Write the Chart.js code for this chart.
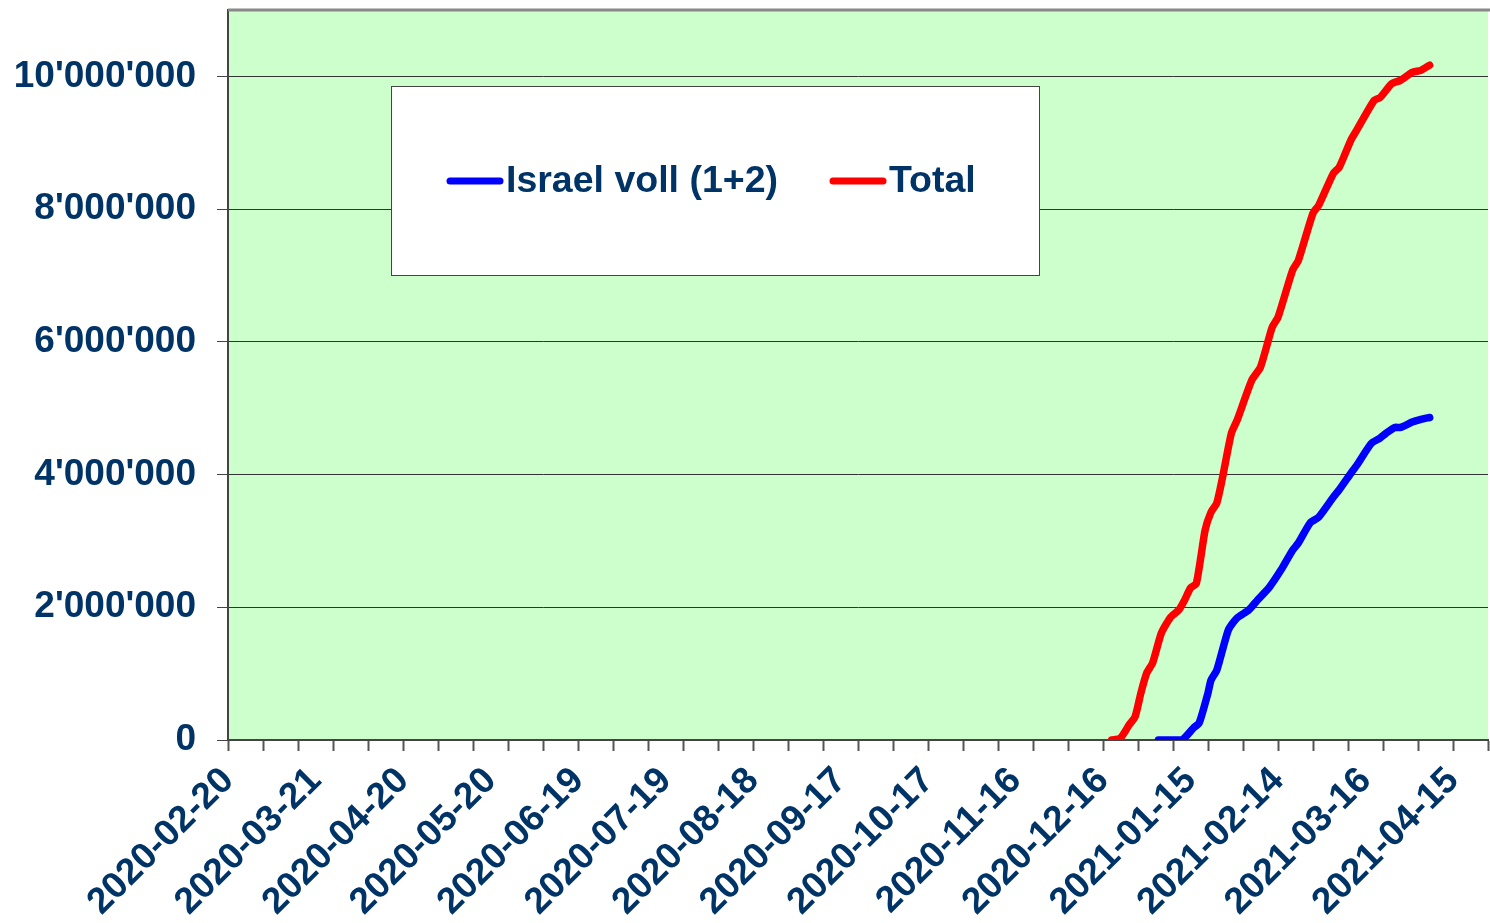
<!DOCTYPE html>
<html lang="de">
<head>
<meta charset="UTF-8">
<title>Israel Impfungen</title>
<script src="https://cdn.jsdelivr.net/npm/chart.js"></script>
<style>
  body { margin: 0; background: #fff; }
  canvas { display: block; }
</style>
</head>
<body>
<canvas id="chart" width="1490" height="923"></canvas>
<script>
// data
const startDate = '2020-02-20';
const axisDays = 432;

const totalDates = ['2020-12-19','2020-12-22','2020-12-25','2020-12-27','2020-12-29','2020-12-31','2021-01-02','2021-01-05','2021-01-08','2021-01-11','2021-01-13','2021-01-15','2021-01-17','2021-01-20','2021-01-22','2021-01-24','2021-01-26','2021-01-29','2021-01-31','2021-02-05','2021-02-08','2021-02-12','2021-02-14','2021-02-19','2021-02-21','2021-02-26','2021-02-28','2021-03-05','2021-03-07','2021-03-11','2021-03-13','2021-03-19','2021-03-21','2021-03-25','2021-03-28','2021-04-01','2021-04-04','2021-04-07'];
const totalValues = [0, 30000, 230000, 350000, 710000, 1010000, 1160000, 1610000, 1840000, 1960000, 2110000, 2290000, 2360000, 3160000, 3430000, 3570000, 3960000, 4620000, 4820000, 5420000, 5620000, 6220000, 6370000, 7080000, 7230000, 7940000, 8060000, 8540000, 8630000, 9040000, 9190000, 9640000, 9680000, 9890000, 9940000, 10060000, 10090000, 10170000];

const israelDates = ['2021-01-04','2021-01-12','2021-01-16','2021-01-18','2021-01-21','2021-01-22','2021-01-24','2021-01-28','2021-01-31','2021-02-04','2021-02-07','2021-02-11','2021-02-15','2021-02-19','2021-02-21','2021-02-25','2021-02-28','2021-03-05','2021-03-07','2021-03-11','2021-03-13','2021-03-18','2021-03-21','2021-03-23','2021-03-26','2021-03-28','2021-04-01','2021-04-04','2021-04-07'];
const israelValues = [0, 0, 180000, 260000, 710000, 900000, 1050000, 1660000, 1840000, 1960000, 2110000, 2300000, 2560000, 2860000, 2970000, 3270000, 3360000, 3660000, 3770000, 4020000, 4140000, 4470000, 4550000, 4620000, 4710000, 4710000, 4790000, 4830000, 4860000];

const seriesLabels = ['Israel voll (1+2)', 'Total'];
const yTicks = [0, 2000000, 4000000, 6000000, 8000000, 10000000];
const yMax = 11000000;
const labelEvery = 30;   // days between date labels
const tickEvery = 12;    // days between tick marks

const navy = '#003366';
const fontFamily = '"Liberation Sans", Arial, sans-serif';
const DAY = 86400000;
const base = Date.parse(startDate + 'T00:00:00Z');

function dayOf(s) { return Math.round((Date.parse(s + 'T00:00:00Z') - base) / DAY); }
function dateOf(d) { return new Date(base + d * DAY).toISOString().slice(0, 10); }
function toPoints(dates, vals) { return dates.map((d, i) => ({ x: dayOf(d), y: vals[i] })); }
function fmt(v) { return String(v).replace(/\B(?=(\d{3})+(?!\d))/g, "'"); }

const plotBg = {
  id: 'plotBg',
  beforeDraw(chart) {
    const { ctx, chartArea: a } = chart;
    ctx.save();
    ctx.fillStyle = '#CCFFCC';
    ctx.fillRect(a.left, a.top, a.right - a.left, a.bottom - a.top);
    ctx.restore();
  },
  afterDraw(chart) {
    const { ctx, chartArea: a } = chart;
    ctx.save();
    ctx.strokeStyle = '#888';
    ctx.lineWidth = 3;
    ctx.beginPath();
    ctx.moveTo(a.left, a.top);
    ctx.lineTo(a.right + 2, a.top);
    ctx.stroke();
    ctx.restore();
  }
};

// legend box inside the plot
const boxLegend = {
  id: 'boxLegend',
  afterDraw(chart) {
    const { ctx, chartArea: a } = chart;
    const x0 = a.left + 163, y0 = a.top + 76, w = 648, h = 189;
    ctx.save();
    ctx.fillStyle = '#fff';
    ctx.fillRect(x0, y0, w, h);
    ctx.strokeStyle = '#444';
    ctx.lineWidth = 1;
    ctx.strokeRect(x0 + 0.5, y0 + 0.5, w, h);
    ctx.font = 'bold 37.5px ' + fontFamily;
    ctx.textBaseline = 'middle';
    const yMid = y0 + 95;
    const xs = [x0 + 59, x0 + 442];
    chart.data.datasets.forEach((ds, k) => {
      ctx.strokeStyle = ds.borderColor;
      ctx.lineWidth = 7;
      ctx.lineCap = 'round';
      ctx.beginPath();
      ctx.moveTo(xs[k], yMid);
      ctx.lineTo(xs[k] + 50, yMid);
      ctx.stroke();
      ctx.fillStyle = navy;
      ctx.fillText(ds.label, xs[k] + 56, yMid + 1);
    });
    ctx.restore();
  }
};

const lineStyle = {
  borderWidth: 7.5,
  borderCapStyle: 'round',
  borderJoinStyle: 'round',
  pointRadius: 0,
  tension: 0.2
};

new Chart(document.getElementById('chart'), {
  type: 'line',
  data: {
    datasets: [
      Object.assign({
        label: seriesLabels[0],
        data: toPoints(israelDates, israelValues),
        borderColor: '#0000FF',
        order: 2
      }, lineStyle),
      Object.assign({
        label: seriesLabels[1],
        data: toPoints(totalDates, totalValues),
        borderColor: '#FF0000',
        order: 1
      }, lineStyle)
    ]
  },
  options: {
    responsive: false,
    animation: false,
    layout: { padding: { top: 10, right: 2, left: 0, bottom: 0 } },
    plugins: {
      legend: { display: false },
      tooltip: { enabled: false }
    },
    scales: {
      x: {
        type: 'linear',
        min: 0,
        max: axisDays,
        afterBuildTicks(scale) {
          const t = [];
          for (let d = 0; d <= axisDays; d += 6) {
            if (d % tickEvery === 0 || d % labelEvery === 0) t.push({ value: d });
          }
          scale.ticks = t;
        },
        afterFit(scale) {
          scale.height = 183;
          scale.paddingLeft = 0;
          scale.paddingRight = 0;
        },
        border: { color: '#444', width: 2 },
        grid: {
          drawOnChartArea: false,
          drawTicks: true,
          tickLength: 11,
          tickWidth: 2,
          tickColor: c => (c.tick && c.tick.value % tickEvery === 0) ? '#555' : 'rgba(0,0,0,0)'
        },
        ticks: {
          autoSkip: false,
          maxRotation: 45,
          minRotation: 45,
          padding: 8,
          color: navy,
          font: { family: fontFamily, size: 37, weight: 'bold' },
          callback: v => (v % labelEvery === 0) ? dateOf(v) : ''
        }
      },
      y: {
        min: 0,
        max: yMax,
        afterBuildTicks(scale) {
          scale.ticks = yTicks.map(v => ({ value: v }));
        },
        afterFit(scale) {
          scale.width = 228;
          scale.paddingTop = 0;
          scale.paddingBottom = 0;
        },
        border: { color: '#444', width: 2 },
        grid: {
          color: '#333',
          lineWidth: 1,
          tickLength: 11,
          tickColor: '#444'
        },
        ticks: {
          autoSkip: false,
          padding: 21,
          color: navy,
          font: { family: fontFamily, size: 37, weight: 'bold' },
          callback: v => fmt(v)
        }
      }
    }
  },
  plugins: [plotBg, boxLegend]
});
</script>
</body>
</html>
